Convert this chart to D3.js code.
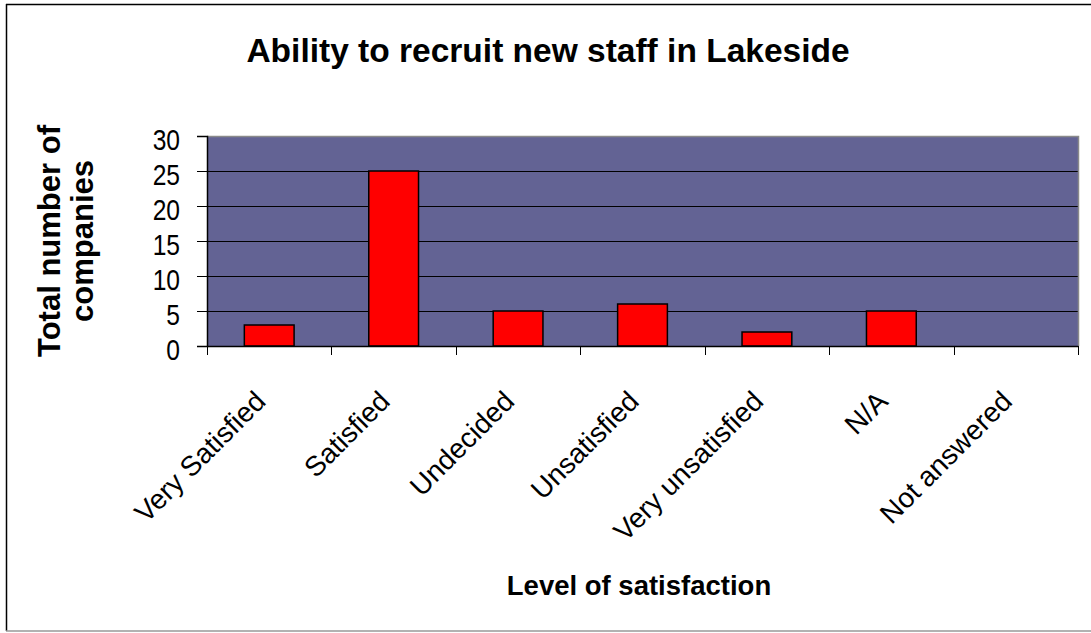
<!DOCTYPE html>
<html>
<head>
<meta charset="utf-8">
<script src="https://cdn.jsdelivr.net/npm/d3@7"></script>
<style>
  html, body { margin: 0; padding: 0; background: #fff; }
  svg { display: block; font-family: "Liberation Sans", Arial, sans-serif; }
</style>
</head>
<body>
<svg id="chart" width="1091" height="633"></svg>
<script>
const categories = ["Very Satisfied", "Satisfied", "Undecided", "Unsatisfied", "Very unsatisfied", "N/A", "Not answered"];
const values = [3, 25, 5, 6, 2, 5, 0];
const yTicks = [0, 5, 10, 15, 20, 25, 30];
const title = "Ability to recruit new staff in Lakeside";
const yTitleLines = ["Total number of", "companies"];
const xTitle = "Level of satisfaction";

const svg = d3.select("#chart");
const plot = { left: 207, right: 1078, top: 136, bottom: 346 };

// outer frame
svg.append("line").attr("x1", 6).attr("y1", 4.5).attr("x2", 1091).attr("y2", 4.5).attr("stroke", "#000").attr("stroke-width", 1.5);
svg.append("line").attr("x1", 6.5).attr("y1", 4).attr("x2", 6.5).attr("y2", 631).attr("stroke", "#000").attr("stroke-width", 1.5);
svg.append("line").attr("x1", 6).attr("y1", 631).attr("x2", 1091).attr("y2", 631).attr("stroke", "#999").attr("stroke-width", 1.5);

const x = d3.scaleBand().domain(categories).range([plot.left, plot.right]).paddingInner(0.6).paddingOuter(0.3);
const xCat = d3.scaleBand().domain(categories).range([plot.left, plot.right]).padding(0);
const y = d3.scaleLinear().domain([0, 30]).range([plot.bottom, plot.top]);

// plot background
svg.append("rect").attr("x", plot.left).attr("y", plot.top)
  .attr("width", plot.right - plot.left).attr("height", plot.bottom - plot.top)
  .attr("fill", "#636394");

// gridlines
svg.append("g").selectAll("line").data(yTicks.filter(t => t > 0 && t < 30)).join("line")
  .attr("x1", plot.left).attr("x2", plot.right)
  .attr("y1", d => Math.round(y(d)) + 0.5).attr("y2", d => Math.round(y(d)) + 0.5)
  .attr("stroke", "#000").attr("stroke-width", 1);

// plot border top/right (gray)
svg.append("path")
  .attr("d", `M${plot.left},${plot.top + 0.5}H${plot.right + 0.5}V${plot.bottom}`)
  .attr("fill", "none").attr("stroke", "#8a8a8a").attr("stroke-width", 1.5);

// bars
svg.append("g").selectAll("rect").data(values).join("rect")
  .attr("x", (d, i) => x(categories[i]))
  .attr("width", x.bandwidth())
  .attr("y", d => y(d))
  .attr("height", d => y(0) - y(d))
  .attr("fill", "#ff0000")
  .attr("stroke", "#000").attr("stroke-width", 1.5)
  .attr("display", d => d > 0 ? null : "none");

// y axis
const yAxis = svg.append("g").attr("transform", `translate(${plot.left},0)`)
  .call(d3.axisLeft(y).tickValues(yTicks).tickSize(10).tickFormat(""));
yAxis.select(".domain").attr("stroke", "#000").attr("stroke-width", 1.5);
yAxis.selectAll(".tick line").attr("stroke", "#000");
svg.append("g").selectAll("text").data(yTicks).join("text")
  .attr("transform", d => `translate(180,${y(d) + 14}) scale(0.82,1)`)
  .attr("text-anchor", "end").attr("font-size", 30).attr("fill", "#000")
  .text(d => d3.format("d")(d));

// x axis
const xAxis = svg.append("g").attr("transform", `translate(0,${plot.bottom})`)
  .call(d3.axisBottom(xCat).tickSize(0).tickFormat(""));
xAxis.select(".domain").attr("stroke", "#000").attr("stroke-width", 1.5);
const bounds = categories.map(c => xCat(c)).concat([plot.right]);
svg.append("g").selectAll("line").data(bounds).join("line")
  .attr("x1", d => Math.round(d) + 0.5).attr("x2", d => Math.round(d) + 0.5)
  .attr("y1", plot.bottom).attr("y2", plot.bottom + 9)
  .attr("stroke", "#000").attr("stroke-width", 1);

// x labels rotated
svg.append("g").selectAll("text").data(categories).join("text")
  .attr("transform", d => `translate(${xCat(d) + xCat.bandwidth() / 2 - 2},${plot.bottom + 57}) rotate(-45)`)
  .attr("text-anchor", "end")
  .attr("font-size", 28)
  .attr("fill", "#000")
  .text(d => d);

// title
svg.append("text").attr("x", 548).attr("y", 62).attr("text-anchor", "middle")
  .attr("font-size", 33.5).attr("font-weight", "bold").attr("fill", "#000").text(title);

// y title
const yt = svg.append("text").attr("transform", "translate(0,241) rotate(-90)")
  .attr("text-anchor", "middle").attr("font-size", 31).attr("font-weight", "bold").attr("fill", "#000");
yt.append("tspan").attr("x", 0).attr("y", 60).text(yTitleLines[0]);
yt.append("tspan").attr("x", 0).attr("y", 93).text(yTitleLines[1]);

// x title
svg.append("text").attr("x", 639).attr("y", 595).attr("text-anchor", "middle")
  .attr("font-size", 27.5).attr("font-weight", "bold").attr("fill", "#000").text(xTitle);
</script>
</body>
</html>
